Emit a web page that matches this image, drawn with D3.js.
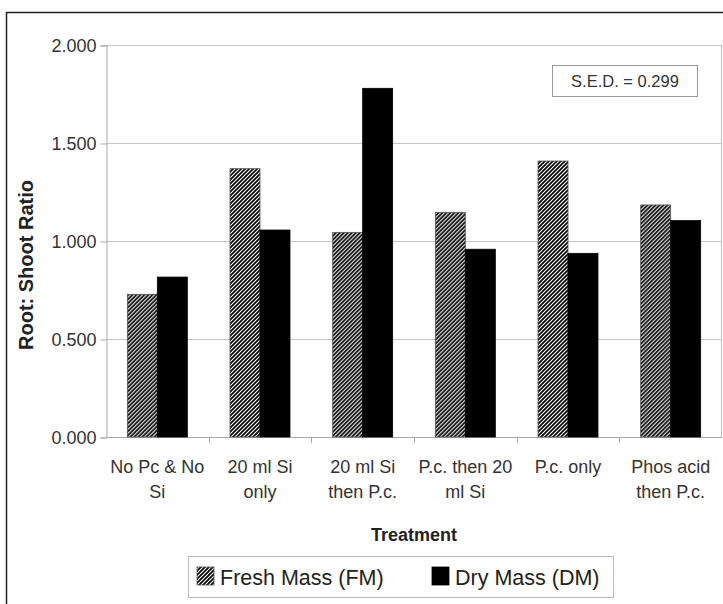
<!DOCTYPE html>
<html><head><meta charset="utf-8">
<script src="https://cdn.jsdelivr.net/npm/d3@7"></script>
<style>
html,body{margin:0;padding:0;background:#fff;}
svg{display:block;font-family:"Liberation Sans",Arial,sans-serif;}
</style></head>
<body><svg id="c" width="723" height="604"></svg>
<script>
const categories = [["No Pc & No","Si"],["20 ml Si","only"],["20 ml Si","then P.c."],["P.c. then 20","ml Si"],["P.c. only"],["Phos acid","then P.c."]];
const seriesNames = ["Fresh Mass (FM)","Dry Mass (DM)"];
const freshMass = [0.728, 1.369, 1.044, 1.146, 1.408, 1.184];
const dryMass = [0.816, 1.056, 1.779, 0.958, 0.937, 1.104];
const yTicks = [0, 0.5, 1.0, 1.5, 2.0];

const svg = d3.select("#c");
const m = {left:106, right:722, top:45, bottom:437};

// outer frame
svg.append("rect").attr("x",6.5).attr("y",12.5).attr("width",730).attr("height",620)
  .attr("fill","#fff").attr("stroke","#222").attr("stroke-width",1.5);

const defs = svg.append("defs");
const pat = defs.append("pattern").attr("id","hatch").attr("patternUnits","userSpaceOnUse")
  .attr("width",4).attr("height",4);
pat.append("rect").attr("width",4).attr("height",4).attr("fill","#fff");
pat.append("path").attr("d","M-1,1 L1,-1 M0,4 L4,0 M3,5 L5,3")
  .attr("stroke","#000").attr("stroke-width",1.7);

const keys = categories.map((c,i)=>i);
const x0 = d3.scaleBand().domain(keys).range([m.left,m.right]).paddingInner(0.4156).paddingOuter(0.2078);
const x1 = d3.scaleBand().domain([0,1]).range([0,x0.bandwidth()]);
const y = d3.scaleLinear().domain([0,2]).range([m.bottom,m.top]);

// grid
svg.append("g").selectAll("line").data(yTicks).join("line")
  .attr("x1",m.left).attr("x2",m.right).attr("y1",d=>y(d)+0.5).attr("y2",d=>y(d)+0.5)
  .attr("stroke","#c4c4c4").attr("stroke-width",1.2);
svg.append("line").attr("x1",m.right-0.5).attr("x2",m.right-0.5).attr("y1",m.top).attr("y2",m.bottom)
  .attr("stroke","#c4c4c4").attr("stroke-width",1.2);

// y axis
const yAxis = d3.axisLeft(y).tickValues(yTicks).tickFormat(d3.format(".3f")).tickSize(6).tickPadding(4);
const gy = svg.append("g").attr("transform",`translate(${m.left+0.5},0.5)`).call(yAxis);
gy.select(".domain").attr("stroke","#aaa");
gy.selectAll(".tick line").attr("stroke","#aaa");
gy.selectAll(".tick text").attr("fill","#333").attr("font-size",18).attr("font-family","Liberation Sans, Arial, sans-serif");

// x axis line and ticks at boundaries
svg.append("line").attr("x1",m.left).attr("x2",m.right).attr("y1",m.bottom+0.5).attr("y2",m.bottom+0.5)
  .attr("stroke","#aaa").attr("stroke-width",1.2);
const bounds = keys.map(k=>x0(k)-x0.step()*x0.paddingInner()/2).concat([m.right]);
svg.append("g").selectAll("line").data(bounds.slice(1,6)).join("line")
  .attr("x1",d=>Math.round(d)+0.5).attr("x2",d=>Math.round(d)+0.5).attr("y1",m.bottom).attr("y2",m.bottom+6)
  .attr("stroke","#aaa");

// bars
const data = keys.map(k=>[freshMass[k],dryMass[k]]);
const groups = svg.append("g").selectAll("g").data(data).join("g")
  .attr("transform",(d,i)=>`translate(${x0(i)},0)`);
groups.selectAll("rect").data(d=>d).join("rect")
  .attr("x",(d,j)=>x1(j)).attr("width",x1.bandwidth())
  .attr("y",d=>y(d)).attr("height",d=>y(0)-y(d))
  .attr("fill",(d,j)=>j===0?"url(#hatch)":"#000")
  .attr("stroke",(d,j)=>j===0?"#555":"#000").attr("stroke-width",0.8);

// category labels
const cl = svg.append("g").selectAll("text").data(categories).join("text")
  .attr("x",(d,i)=>x0(i)+x0.bandwidth()/2).attr("y",473)
  .attr("text-anchor","middle").attr("font-size",18).attr("fill","#333");
cl.selectAll("tspan").data(d=>d).join("tspan")
  .attr("x",function(){return d3.select(this.parentNode).attr("x");})
  .attr("dy",(d,j)=>j===0?0:25).text(d=>d);

// axis titles
svg.append("text").attr("x",(m.left+m.right)/2).attr("y",541).attr("text-anchor","middle")
  .attr("font-size",18).attr("font-weight","bold").attr("fill","#222").text("Treatment");
svg.append("text").attr("transform",`translate(33,${(m.top+m.bottom)/2+24}) rotate(-90)`)
  .attr("text-anchor","middle").attr("font-size",20).attr("font-weight","bold").attr("fill","#222")
  .text("Root: Shoot Ratio");

// SED box
svg.append("rect").attr("x",552.5).attr("y",65.5).attr("width",145).attr("height",31)
  .attr("fill","#fff").attr("stroke","#999");
svg.append("text").attr("x",625).attr("y",87).attr("text-anchor","middle").attr("font-size",16.5)
  .attr("fill","#333").text("S.E.D. = 0.299");

// legend
svg.append("rect").attr("x",188.5).attr("y",556.5).attr("width",425).attr("height",41)
  .attr("fill","#fff").attr("stroke","#bbb");
const lx = [197, 432], tx = [220, 455];
const lg = svg.append("g").selectAll("g").data(seriesNames).join("g");
lg.append("rect").attr("x",(d,i)=>lx[i]).attr("y",567).attr("width",17).attr("height",18)
  .attr("fill",(d,i)=>i===0?"url(#hatch)":"#000").attr("stroke",(d,i)=>i===0?"#555":"#000").attr("stroke-width",0.8);
lg.append("text").attr("x",(d,i)=>tx[i]).attr("y",585).attr("font-size",21.5).attr("fill","#222").text(d=>d);
</script></body></html>
